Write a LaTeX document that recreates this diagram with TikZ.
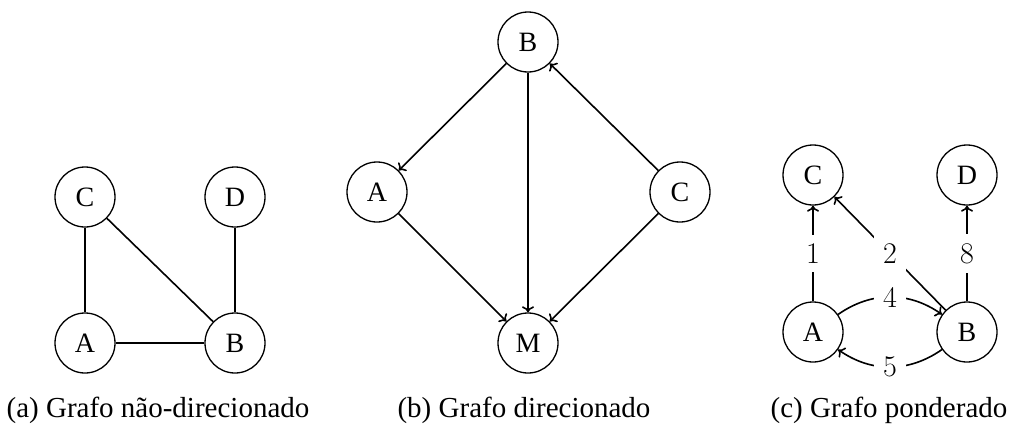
\documentclass[tikz,border=0pt]{standalone}
\usepackage{fontspec}
\newfontfamily\timesfont{Liberation Serif}
\usetikzlibrary{arrows.meta}
\begin{document}
\begin{tikzpicture}[x=1pt,y=-1pt,
  vtx/.style={circle,draw,line width=1.3pt,minimum size=60pt,inner sep=0pt,font=\timesfont\fontsize{28}{34}\selectfont},
  captxt/.style={anchor=base,inner sep=0pt,font=\timesfont\fontsize{29}{34}\selectfont},
  lnk/.style={line width=1.6pt},
  arr/.style={line width=1.6pt,-{To[length=6pt,width=12pt]}},
  wlab/.style={fill=white,font=\fontsize{30}{36}\selectfont,inner sep=9pt}]
\useasboundingbox (0,0) rectangle (1011,423);
% (a)
\node[vtx] (aC) at (85,197) {C};
\node[vtx] (aD) at (235,197) {D};
\node[vtx] (aA) at (85,343) {A};
\node[vtx] (aB) at (235,343) {B};
\draw[lnk] (aC) -- (aA);
\draw[lnk] (aC) -- (aB);
\draw[lnk] (aD) -- (aB);
\draw[lnk] (aA) -- (aB);
\node[captxt] (capa) at (158,417) {(a) Grafo não-direcionado};
% (b)
\node[vtx] (bB) at (528,42) {B};
\node[vtx] (bA) at (377,192) {A};
\node[vtx] (bC) at (680,192) {C};
\node[vtx] (bM) at (528,343) {M};
\draw[arr] (bB) -- (bA);
\draw[arr] (bB) -- (bM);
\draw[arr] (bC) -- (bB);
\draw[arr] (bA) -- (bM);
\draw[arr] (bC) -- (bM);
\node[captxt] (capb) at (524,417) {(b) Grafo direcionado};
% (c)
\node[vtx] (cC) at (813,175) {C};
\node[vtx] (cD) at (967,175) {D};
\node[vtx] (cA) at (813,332) {A};
\node[vtx] (cB) at (967,332) {B};
\draw[arr] (cA) -- node[wlab] {1} (cC);
\draw[arr] (cB) -- node[wlab] {2} (cC);
\draw[arr] (cB) -- node[wlab] {8} (cD);
\draw[arr] (cA) to[bend left=35] node[wlab] {4} (cB);
\draw[arr] (cB) to[bend left=35] node[wlab] {5} (cA);
\node[captxt] (capc) at (889,417) {(c) Grafo ponderado};
\end{tikzpicture}
\end{document}
